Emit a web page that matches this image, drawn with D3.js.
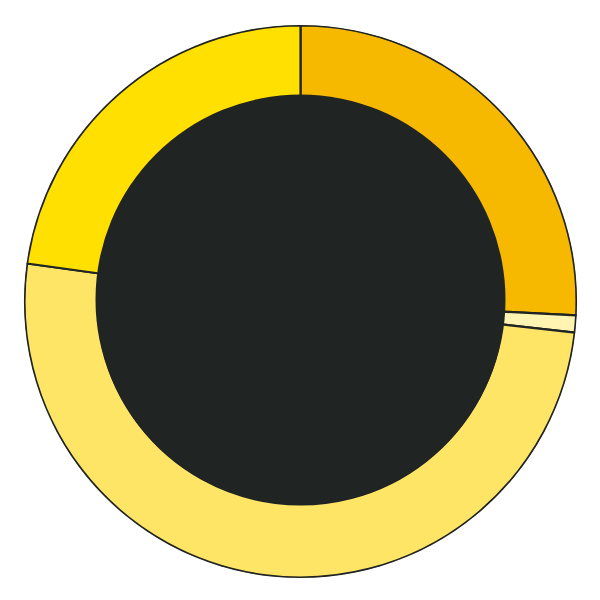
<!DOCTYPE html>
<html>
<head>
<meta charset="utf-8">
<script src="https://cdn.jsdelivr.net/npm/d3@7"></script>
<style>
  html, body { margin: 0; padding: 0; background: #ffffff; }
  svg { display: block; }
</style>
</head>
<body>
<svg id="chart" width="600" height="600"></svg>
<script>
const categories = ["A", "B", "C", "D"];
const values = [25.8, 1.0, 50.4, 22.8];
const colors = ["#F6B900", "#FFF4B2", "#FFE566", "#FFE000"];

const W = 600, H = 600;
const cx = 300.5, cy = 301.5;
const outerR = 276;
const innerR = 205;

const svg = d3.select("#chart");

const data = categories.map((c, i) => ({ cat: c, value: values[i], color: colors[i] }));

const pie = d3.pie().value(d => d.value).sort(null);
const arc = d3.arc().innerRadius(innerR - 2).outerRadius(outerR);

svg.append("defs").append("clipPath").attr("id", "clip")
  .append("circle").attr("r", outerR + 0.6);

const g = svg.append("g").attr("transform", `translate(${cx},${cy})`);
const pg = g.append("g").attr("clip-path", "url(#clip)");

pg.selectAll("path")
  .data(pie(data))
  .join("path")
  .attr("d", arc)
  .attr("fill", d => d.data.color)
  .attr("stroke", "#202423")
  .attr("stroke-width", 2.2)
  .attr("stroke-linejoin", "round");

g.append("circle")
  .attr("cx", 0)
  .attr("cy", -2)
  .attr("r", innerR)
  .attr("fill", "#202423");
</script>
</body>
</html>
